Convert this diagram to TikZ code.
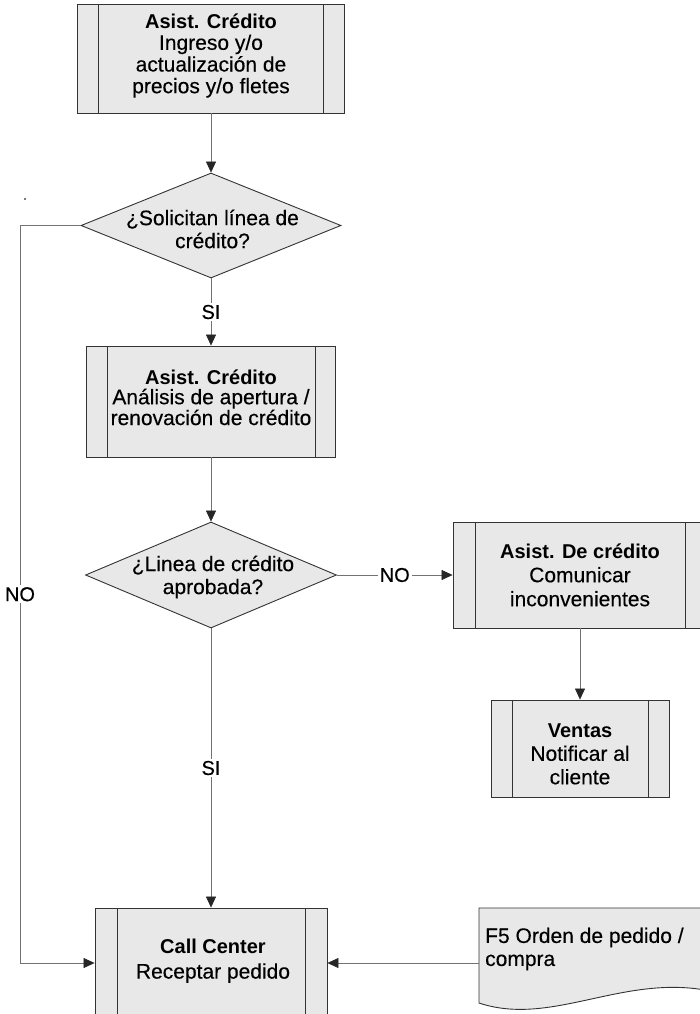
\documentclass[tikz,border=0pt]{standalone}
\usepackage{fontspec}
\setmainfont{Liberation Sans}[UprightFeatures={FakeBold=0.3}]
\usetikzlibrary{arrows.meta,shapes.geometric}
% bold first line of a process box
\newcommand\boxhead[1]{{\fontsize{20}{20}\selectfont\bfseries #1}}

\begin{document}
\begin{tikzpicture}[x=1pt,y=1pt,
  % shaded fill shared by every symbol
  symbol/.style={draw=black!80, line width=0.9pt, fill=black!9},
  % predefined-process box: rectangle with two inner side rules
  procbox/.style={symbol, rectangle, inner sep=0pt,
    path picture={\draw[black!80, line width=0.9pt]
      ([xshift=#1]path picture bounding box.north west) --
      ([xshift=#1]path picture bounding box.south west)
      ([xshift=-#1]path picture bounding box.north east) --
      ([xshift=-#1]path picture bounding box.south east);}},
  procbox/.default=21,
  decision/.style={symbol, diamond, inner sep=0pt},
  txt/.style={font=\fontsize{21}{23}\selectfont, align=center, inner sep=0pt},
  lbl/.style={txt, font=\fontsize{20}{23}\selectfont, fill=white, inner sep=2pt},
  conn/.style={draw=black!55, line width=0.6pt,
    -{Triangle[length=11pt, width=10pt, color=black!85]}}
]
\fill[white] (0,0) rectangle (699,-1014);
\useasboundingbox (0,0) rectangle (699,-1014);

% ---- symbols ----
\node[procbox=21, minimum width=267, minimum height=109] (b1) at (211,-58.5) {};
\node[txt, font=\fontsize{21}{21.7}\selectfont] (b1t) at (211,-55.5)
  {\boxhead{Asist. Crédito}\\Ingreso y/o\\actualización de\\precios y/o fletes};

\node[decision, minimum width=260, minimum height=105] (d1) at (211,-225.5) {};
\node[txt] (d1t) at (212.5,-229) {¿Solicitan línea de\\crédito?};

\node[procbox=20.5, minimum width=249, minimum height=111] (b2) at (211,-401.5) {};
\node[txt, font=\fontsize{21}{19.8}\selectfont] (b2t) at (211,-397.5)
  {\boxhead{Asist. Crédito}\\Análisis de apertura /\\renovación de crédito};

\node[decision, minimum width=251, minimum height=106] (d2) at (211,-575) {};
\node[txt] (d2t) at (213,-577) {¿Linea de crédito\\aprobada?};

\node[procbox=22, minimum width=254, minimum height=106] (b3) at (580,-575) {};
\node[txt, font=\fontsize{21}{24}\selectfont] (b3t) at (580,-575)
  {\boxhead{Asist. De crédito}\\Comunicar\\inconvenientes};

\node[procbox=21, minimum width=178, minimum height=97] (v) at (580,-748.5) {};
\node[txt, font=\fontsize{21}{23.5}\selectfont] (vt) at (580,-754)
  {\boxhead{Ventas}\\Notificar al\\cliente};

\node[procbox=22, minimum width=232, minimum height=110] (cc) at (211,-963) {};
\node[txt, font=\fontsize{21}{25}\selectfont] (cct) at (213,-961)
  {\boxhead{Call Center}\\Receptar pedido};

% document symbol with a wavy lower edge
\path[symbol] (479,-908) -- (740,-908) -- (740,-1000)
  .. controls (640,-960) and (560,-1030) .. (479,-1003) -- cycle;
\node[txt, align=left, anchor=west, inner xsep=6pt,
  font=\fontsize{21}{23}\selectfont] (doc) at (479,-949)
  {F5 Orden de pedido /\\compra};

% ---- connectors ----
\draw[conn] (b1.south) -- (d1.north);
\draw[conn] (d1.south) -- node[lbl] (si1) {SI} (b2.north);
\draw[conn] (b2.south) -- (d2.north);
\draw[conn] (d2.east) -- node[lbl] (no1) {NO} (b3.west);
\draw[conn] (b3.south) -- (v.north);
\draw[conn] (d2.south) -- node[lbl] (si2) {SI} (cc.north);

\coordinate (lc1) at (20,-225.5);
\coordinate (lc2) at (20,-963);
\draw[conn] (d1.west) -- (lc1) -- node[lbl] (no2) {NO} (lc2) -- (cc.west);

\draw[conn] (doc.west |- cc.east) -- (cc.east);

% small ink dot near the left return line
\fill[black!70] (25,-199) circle (1.1);
\end{tikzpicture}
\end{document}
